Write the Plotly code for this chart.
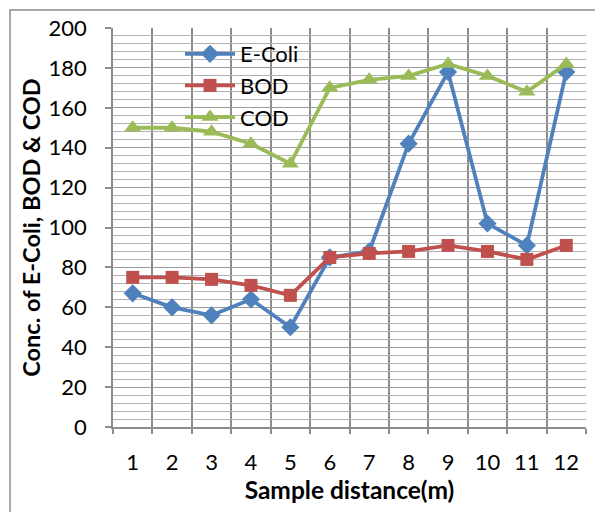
import plotly.graph_objects as go

x_vals = [1, 2, 3, 4, 5, 6, 7, 8, 9, 10, 11, 12]
x_labels = ["1", "2", "3", "4", "5", "6", "7", "8", "9", "10", "11", "12"]
ecoli = [67, 60, 56, 64, 50, 85, 88, 142, 178, 102, 91, 178]
bod = [75, 75, 74, 71, 66, 85, 87, 88, 91, 88, 84, 91]
cod = [150, 150, 148, 142, 132, 170, 174, 176, 182, 176, 168, 182]

FONT = "Lato, Calibri, Carlito, sans-serif"
W, H = 595, 512
L, R, T, B = 113, 9, 28, 85

fig = go.Figure()
series = [
    ("E-Coli", ecoli, "#4F81BD", "diamond", 14),
    ("BOD", bod, "#C0504D", "square", 13),
    ("COD", cod, "#9BBB59", "triangle-up", 15),
]
for name, ys, col, sym, sz in series:
    fig.add_trace(go.Scatter(
        x=x_vals, y=ys, name=name, mode="lines+markers",
        line=dict(color=col, width=3.8),
        marker=dict(symbol=sym, size=sz, color=col),
        legendgroup=name,
    ))

pw = W - L - R
ph = H - T - B
fig.add_shape(type="rect", xref="paper", yref="paper",
              x0=(10 - L) / pw, x1=(W + 20 - L) / pw,
              y0=(H - B - (H + 20)) / ph, y1=(H - B - 10) / ph,
              line=dict(color="#8c8c8c", width=1.5), fillcolor="rgba(0,0,0,0)",
              layer="below")

fig.update_layout(
    width=W, height=H,
    margin=dict(l=L, r=R, t=T, b=B, pad=0),
    paper_bgcolor="white", plot_bgcolor="white",
    font=dict(family=FONT, size=22, color="black"),
    showlegend=True,
    legend=dict(x=(180 - L) / pw, y=(H - B - 33) / ph, xanchor="left", yanchor="top",
                bgcolor="rgba(0,0,0,0)", font=dict(size=22, family=FONT),
                tracegroupgap=0, itemwidth=50),
    xaxis=dict(
        range=[0.5, 12.5], tickmode="array", tickvals=x_vals, ticktext=x_labels,
        showgrid=False, zeroline=False, ticks="", ticklen=0,
        showline=True, linecolor="#8c8c8c", linewidth=1.5, mirror=False,
        tickfont=dict(size=22, family=FONT), ticklabelstandoff=15,
        title=dict(text="<b>Sample distance(m)</b>", font=dict(size=24.5, family=FONT), standoff=5),
        minor=dict(tickmode="linear", tick0=0.5, dtick=1, showgrid=True,
                   gridcolor="#8c8c8c", gridwidth=1.5, ticks="outside", ticklen=5,
                   tickcolor="#8c8c8c", tickwidth=1.5),
    ),
    yaxis=dict(
        range=[0, 200], tickmode="linear", tick0=0, dtick=20,
        showgrid=True, gridcolor="#9a9a9a", gridwidth=1.2, zeroline=False,
        showline=True, linecolor="#8c8c8c", linewidth=1.5,
        ticks="outside", ticklen=6, tickcolor="#8c8c8c", tickwidth=1.5,
        tickfont=dict(size=22, family=FONT), ticklabelstandoff=14,
        title=dict(text="<b>Conc. of E-Coli, BOD & COD</b>", font=dict(size=23.5, family=FONT), standoff=1),
        minor=dict(dtick=4, showgrid=True, gridcolor="#b0b0b0", gridwidth=1.2),
    ),
)

fig.write_html("out.html")
